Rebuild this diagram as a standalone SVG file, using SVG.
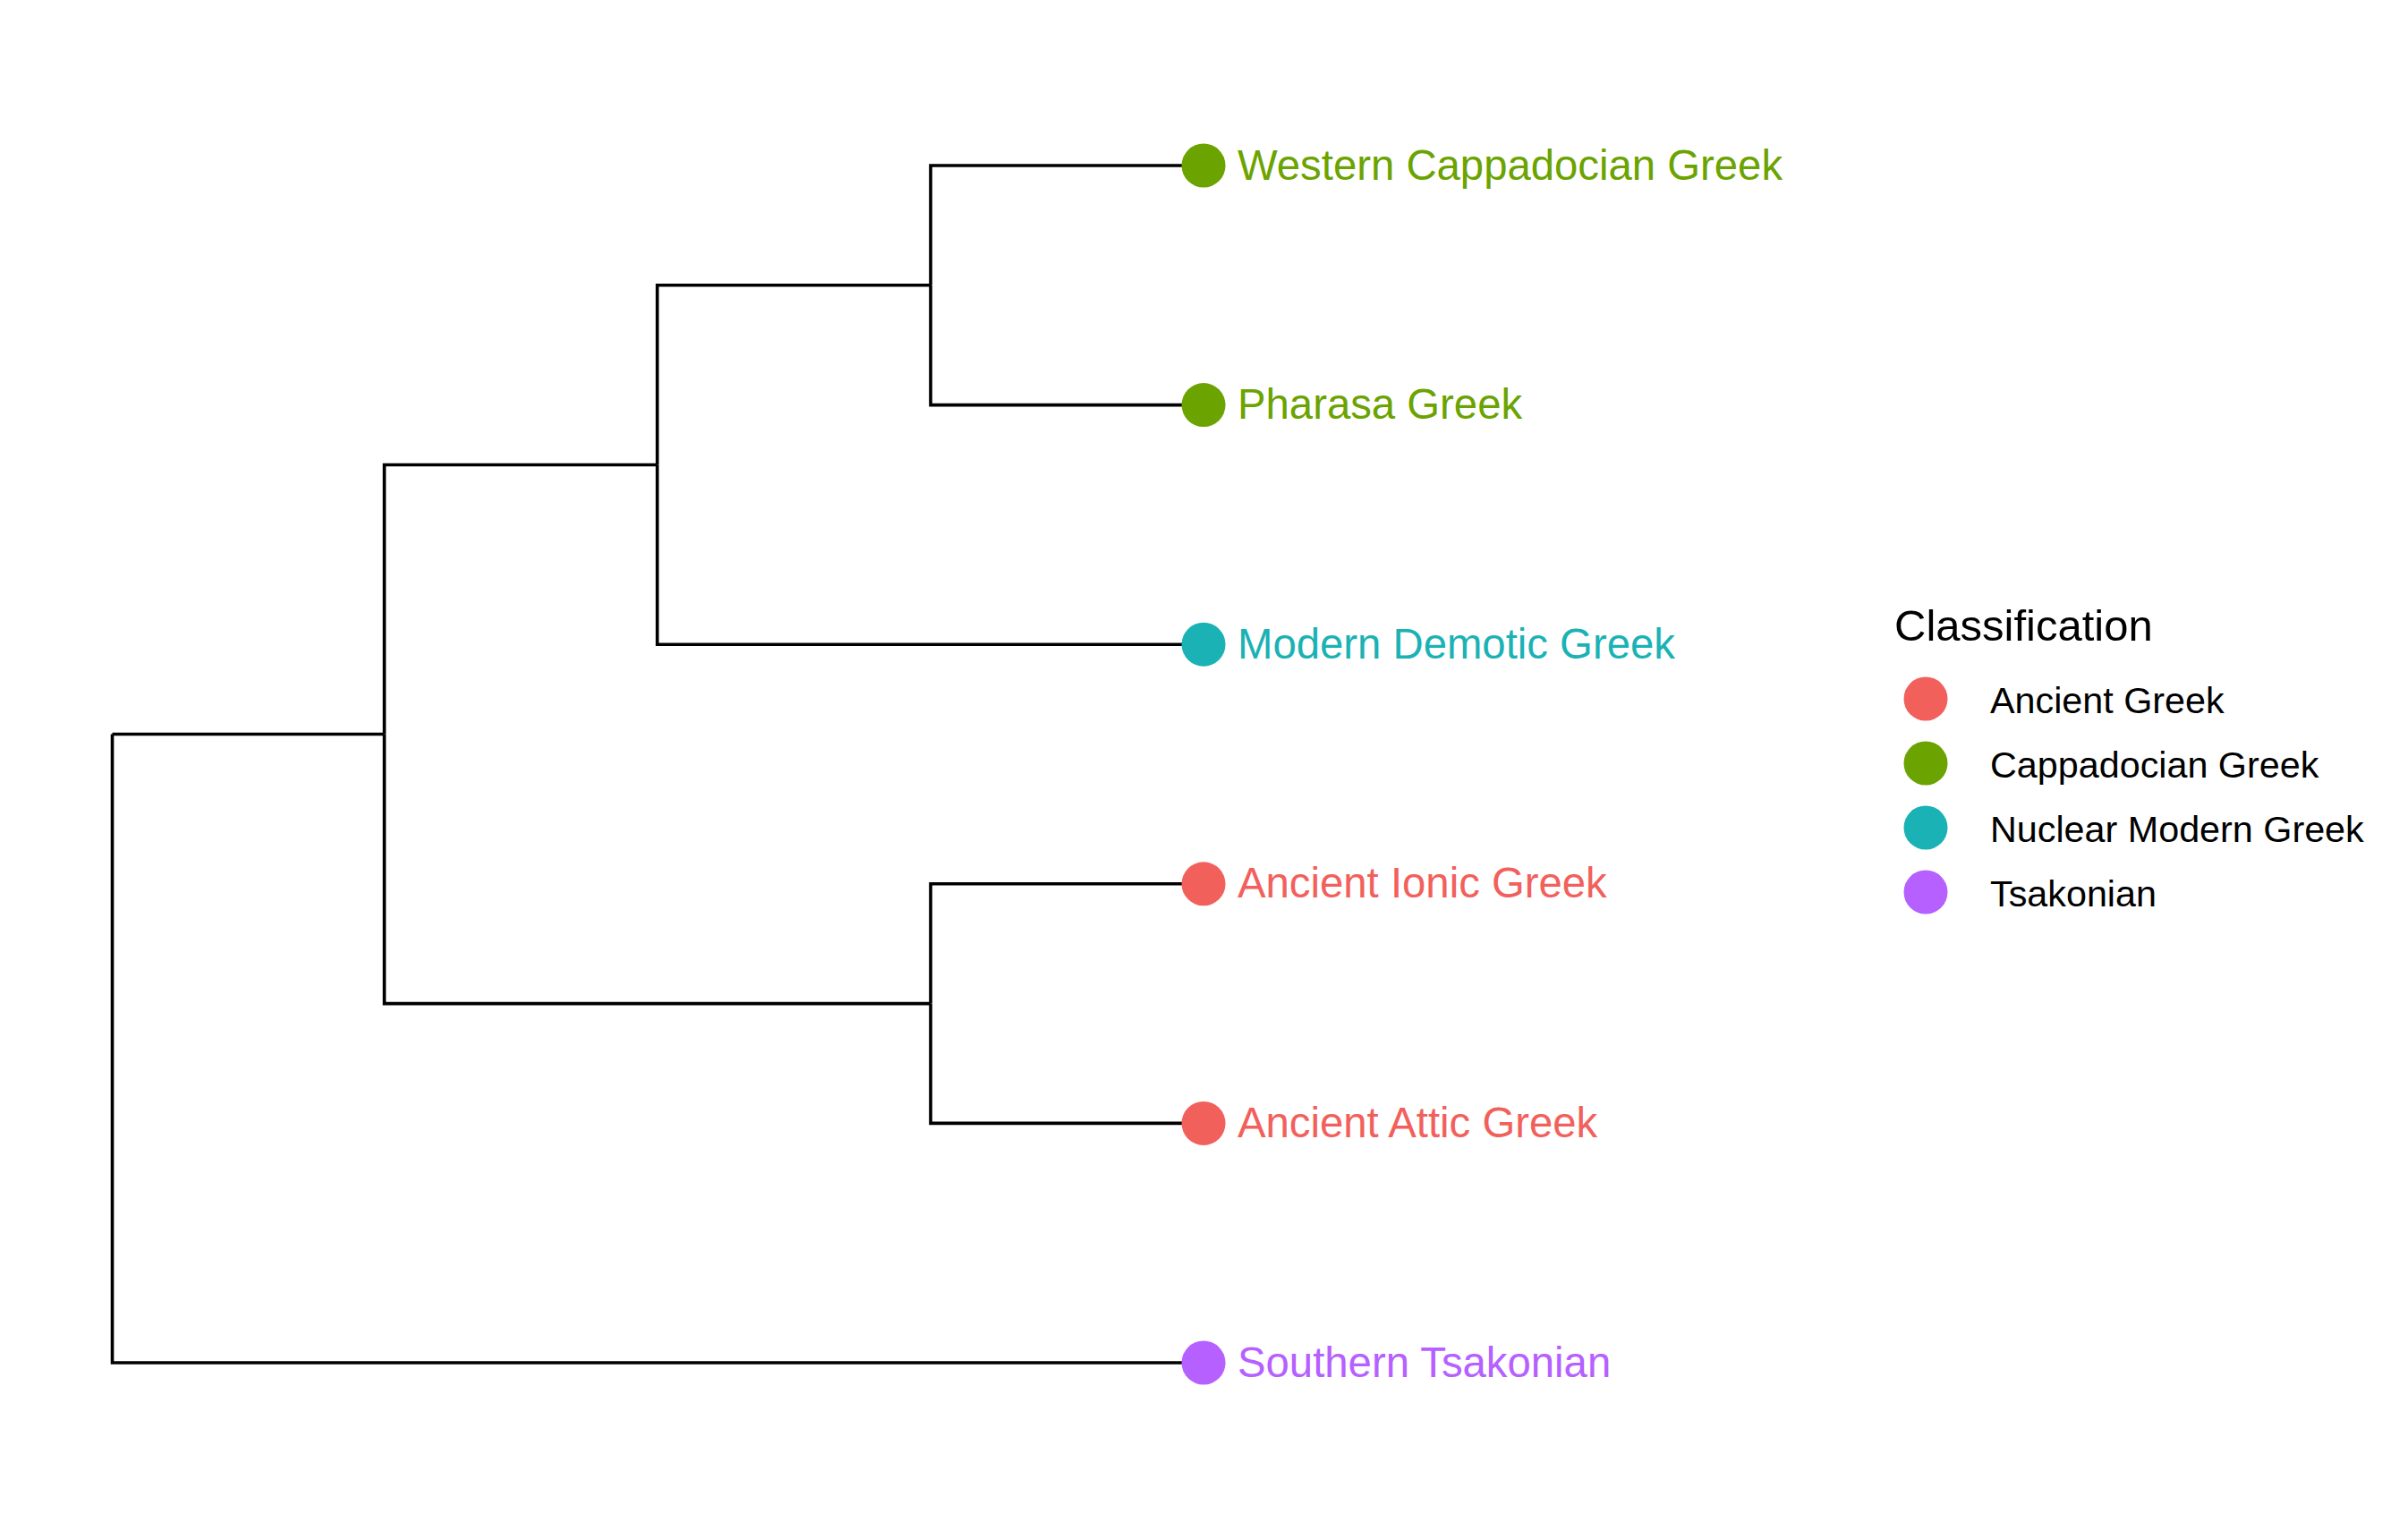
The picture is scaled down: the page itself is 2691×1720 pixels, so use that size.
<svg xmlns="http://www.w3.org/2000/svg" width="2691" height="1720" viewBox="0 0 2691 1720">
  <style>
    .edge { fill: none; stroke: #000; stroke-width: 3.6; stroke-linecap: butt; stroke-linejoin: miter; }
    .tip { font-family: "Liberation Sans", Arial, sans-serif; font-size: 47.3px; }
    .key { font-family: "Liberation Sans", Arial, sans-serif; font-size: 41.3px; fill: #000; }
    .title { font-family: "Liberation Sans", Arial, sans-serif; font-size: 49px; fill: #000; }
    .ancient { fill: #F2605C; }
    .cappadocian { fill: #6BA300; }
    .nuclear { fill: #1AB2B5; }
    .tsakonian { fill: #B660FF; }
  </style>
  <rect width="2691" height="1720" fill="#fff"/>

  <!-- tree branches (rectangular cladogram) -->
  <g id="connectors">
    <path class="edge" d="M1040,318.8 V185 H1345"/>
    <path class="edge" d="M1040,318.8 V452.6 H1345"/>
    <path class="edge" d="M734.5,519.5 V318.8 H1040"/>
    <path class="edge" d="M734.5,519.5 V720.2 H1345"/>
    <path class="edge" d="M1040,1121.6 V987.8 H1345"/>
    <path class="edge" d="M1040,1121.6 V1255.4 H1345"/>
    <path class="edge" d="M429.5,820.5 V519.5 H734.5"/>
    <path class="edge" d="M429.5,820.5 V1121.6 H1040"/>
    <path class="edge" d="M125.5,820.5 H429.5"/>
    <path class="edge" d="M125.5,820.5 V1523 H1345"/>
  </g>

  <!-- tips -->
  <g id="western-cappadocian-greek">
    <circle class="cappadocian" cx="1345" cy="185" r="24.5"/>
    <text class="tip cappadocian" x="1383" y="200.5">Western Cappadocian Greek</text>
  </g>
  <g id="pharasa-greek">
    <circle class="cappadocian" cx="1345" cy="452.6" r="24.5"/>
    <text class="tip cappadocian" x="1383" y="468.1">Pharasa Greek</text>
  </g>
  <g id="modern-demotic-greek">
    <circle class="nuclear" cx="1345" cy="720.2" r="24.5"/>
    <text class="tip nuclear" x="1383" y="735.7">Modern Demotic Greek</text>
  </g>
  <g id="ancient-ionic-greek">
    <circle class="ancient" cx="1345" cy="987.8" r="24.5"/>
    <text class="tip ancient" x="1383" y="1003.3">Ancient Ionic Greek</text>
  </g>
  <g id="ancient-attic-greek">
    <circle class="ancient" cx="1345" cy="1255.4" r="24.5"/>
    <text class="tip ancient" x="1383" y="1270.9">Ancient Attic Greek</text>
  </g>
  <g id="southern-tsakonian">
    <circle class="tsakonian" cx="1345" cy="1523" r="24.5"/>
    <text class="tip tsakonian" x="1383" y="1538.5">Southern Tsakonian</text>
  </g>

  <!-- legend -->
  <g id="legend">
    <text class="title" x="2117" y="716">Classification</text>
    <circle class="ancient" cx="2152" cy="781" r="24.5"/>
    <text class="key" x="2224" y="796.5">Ancient Greek</text>
    <circle class="cappadocian" cx="2152" cy="853" r="24.5"/>
    <text class="key" x="2224" y="868.5">Cappadocian Greek</text>
    <circle class="nuclear" cx="2152" cy="925" r="24.5"/>
    <text class="key" x="2224" y="940.5">Nuclear Modern Greek</text>
    <circle class="tsakonian" cx="2152" cy="997" r="24.5"/>
    <text class="key" x="2224" y="1012.5">Tsakonian</text>
  </g>
</svg>
